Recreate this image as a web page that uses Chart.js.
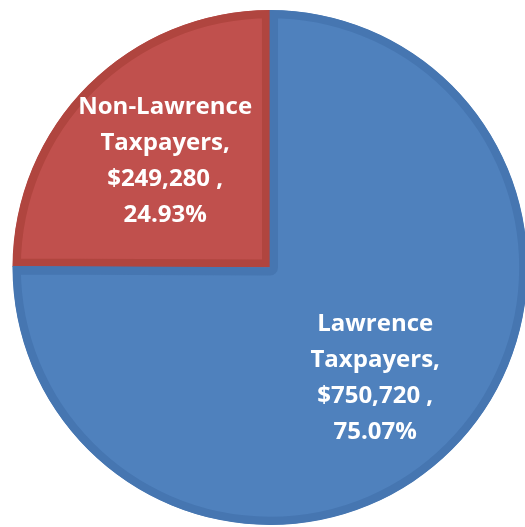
<!DOCTYPE html>
<html>
<head>
<meta charset="utf-8">
<script src="https://cdn.jsdelivr.net/npm/chart.js@4"></script>
<style>
  html, body { margin: 0; padding: 0; background: #fff; overflow: hidden; }
  #wrap { width: 540px; height: 527px; }
</style>
</head>
<body>
<div id="wrap"><canvas id="pieChart"></canvas></div>
<script>
// Data
const labels = ['Non-Lawrence Taxpayers', 'Lawrence Taxpayers'];
const amounts = [249280, 750720];
const percents = ['24.93%', '75.07%'];
const fillColors = ['#c0504d', '#4f81bd'];
const edgeColors = ['#b0453f', '#4676b1'];

// Small nudges so the label blocks sit where the original put them
const labelNudge = [[6, 5], [-2, 3]];

// Draw the data labels in the middle of each slice
const sliceLabels = {
    id: 'sliceLabels',
    afterDatasetsDraw(chart) {
        const ctx = chart.ctx;
        const meta = chart.getDatasetMeta(0);
        ctx.save();
        ctx.fillStyle = '#ffffff';
        ctx.font = 'bold 24px "Open Sans", sans-serif';
        ctx.textAlign = 'center';
        ctx.textBaseline = 'middle';
        meta.data.forEach((arc, i) => {
            const { x, y, startAngle, endAngle, outerRadius } = arc.getProps(['x', 'y', 'startAngle', 'endAngle', 'outerRadius']);
            const mid = (startAngle + endAngle) / 2;
            const r = outerRadius * (i === 0 ? 0.61 : 0.59);
            const cx = x + Math.cos(mid) * r + labelNudge[i][0];
            const cy = y + Math.sin(mid) * r + labelNudge[i][1];
            const lines = [
                labels[i].replace(' Taxpayers', ''),
                'Taxpayers,',
                '$' + amounts[i].toLocaleString('en-US') + ' ,',
                percents[i]
            ];
            const lh = 35.7;
            lines.forEach((line, k) => {
                ctx.fillText(line, cx, cy + (k - 1.5) * lh);
            });
        });
        ctx.restore();
    }
};

new Chart(document.getElementById('pieChart'), {
    type: 'pie',
    data: {
        labels: labels,
        datasets: [{
            data: amounts,
            backgroundColor: fillColors,
            borderColor: edgeColors,
            borderWidth: 8,
            borderAlign: 'inner'
        }]
    },
    options: {
        responsive: true,
        maintainAspectRatio: false,
        animation: false,
        rotation: -89.75,
        layout: { padding: { left: 12, right: 12, top: 10, bottom: 2 } },
        plugins: {
            legend: { display: false },
            tooltip: { enabled: false }
        }
    },
    plugins: [sliceLabels]
});
</script>
</body>
</html>
